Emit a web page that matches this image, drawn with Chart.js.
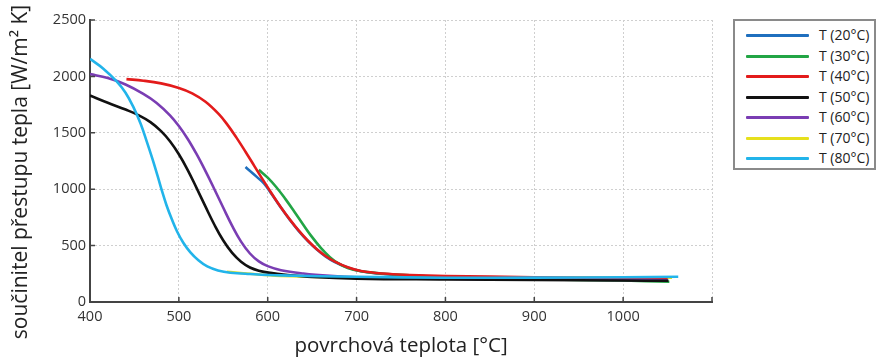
<!DOCTYPE html>
<html>
<head>
<meta charset="utf-8">
<script src="https://cdn.jsdelivr.net/npm/chart.js@4.4.1/dist/chart.umd.min.js"></script>
<style>
  html, body { margin: 0; padding: 0; background: #fff; }
  #wrap { position: relative; width: 883px; height: 362px; overflow: hidden; }
  #legend {
    position: absolute; left: 733px; top: 19px; width: 143px; height: 151px;
    box-sizing: border-box; border: 2px solid #8a8a8a; background: #fff;
    font-family: "Open Sans", sans-serif; font-size: 14px; color: #222;
  }
  .row { position: absolute; left: 0; height: 20px; width: 100%; }
  .row .sw { position: absolute; left: 11px; width: 63px; height: 3px; top: 9px; border-radius: 1px; }
  .row .tx { position: absolute; left: 84px; top: 0; line-height: 20px; white-space: nowrap; }
</style>
</head>
<body>
<div id="wrap">
  <canvas id="c" width="883" height="362"></canvas>
  <div id="legend"></div>
</div>
<script>
// Heat transfer coefficient vs. surface temperature, one curve per water temperature
const seriesNames = ["T (20°C)", "T (30°C)", "T (40°C)", "T (50°C)", "T (60°C)", "T (70°C)", "T (80°C)"];
const seriesColors = ["#1f6fbe", "#22a545", "#e31b1b", "#111111", "#7a3db3", "#e6e01c", "#22b4ea"];

const xTicks = [400, 500, 600, 700, 800, 900, 1000, 1100];
const yTicks = [0, 500, 1000, 1500, 2000, 2500];

const t20x = [575, 588, 596, 605, 615, 625, 635, 645, 655, 665, 675, 690, 705, 730, 800, 900, 1000, 1050];
const t20y = [1196, 1107, 1050, 950, 835, 727, 629, 542, 467, 405, 357, 305, 272, 248, 210, 205, 200, 196];

const t30x = [590, 600, 610, 620, 630, 640, 650, 660, 670, 680, 690, 705, 730, 760, 800, 900, 1000, 1052];
const t30y = [1172, 1102, 1015, 912, 800, 685, 575, 478, 398, 340, 302, 272, 251, 237, 219, 202, 190, 180];

const t40x = [441, 460, 480, 500, 515, 530, 545, 555, 565, 575, 585, 595, 605, 615, 625, 635, 645, 655, 665, 675, 690, 705, 730, 760, 800, 900, 1000, 1050];
const t40y = [1976, 1962, 1938, 1898, 1850, 1775, 1665, 1568, 1455, 1332, 1205, 1078, 955, 838, 730, 632, 545, 470, 408, 360, 308, 275, 252, 240, 231, 220, 212, 210];

const t50x = [400, 420, 440, 455, 468, 480, 490, 500, 510, 520, 530, 540, 550, 560, 570, 580, 590, 603, 620, 650, 700, 800, 900, 1000, 1051];
const t50y = [1830, 1766, 1706, 1655, 1595, 1515, 1425, 1310, 1170, 1010, 845, 685, 545, 435, 357, 306, 278, 258, 242, 222, 207, 200, 195, 190, 188];

const t60x = [400, 420, 440, 460, 475, 490, 500, 510, 520, 530, 540, 550, 560, 570, 580, 590, 600, 615, 640, 670, 700, 800, 900, 1000, 1050];
const t60y = [2020, 1985, 1928, 1845, 1765, 1655, 1560, 1445, 1310, 1160, 1000, 835, 675, 535, 430, 360, 318, 282, 253, 232, 220, 207, 200, 195, 192];

const t70x = [554, 580, 614, 700, 800, 900, 1000, 1055];
const t70y = [268, 250, 232, 220, 212, 213, 215, 215];

const t80x = [400, 415, 430, 440, 449, 457, 464, 470, 476, 481, 486, 492, 498, 505, 513, 522, 532, 544, 558, 580, 614, 700, 800, 900, 1000, 1062];
const t80y = [2155, 2068, 1955, 1855, 1725, 1580, 1420, 1275, 1120, 985, 860, 735, 625, 525, 440, 370, 315, 280, 260, 248, 236, 224, 215, 216, 220, 224];

const seriesX = [t20x, t30x, t40x, t50x, t60x, t70x, t80x];
const seriesY = [t20y, t30y, t40y, t50y, t60y, t70y, t80y];
// lower value = drawn later (on top)
const drawOrder = [5, 4, 3, 1, 2, 6, 0];

const xTitle = "povrchová teplota [°C]";
const yTitle = "součinitel přestupu tepla [W/m² K]";

const FONT = '"Open Sans", sans-serif';

// legend
const legend = document.getElementById('legend');
seriesNames.forEach((name, i) => {
  const row = document.createElement('div');
  row.className = 'row';
  row.style.top = (4 + i * 20.5) + 'px';
  const sw = document.createElement('span');
  sw.className = 'sw';
  sw.style.background = seriesColors[i];
  const tx = document.createElement('span');
  tx.className = 'tx';
  tx.textContent = name;
  row.appendChild(sw); row.appendChild(tx);
  legend.appendChild(row);
});

// inward tick marks and axis titles
const axisDecor = {
  id: 'axisDecor',
  afterDraw(chart) {
    const { ctx, chartArea: a, scales: { x, y } } = chart;
    ctx.save();
    ctx.strokeStyle = '#444';
    ctx.lineWidth = 1.5;
    ctx.beginPath();
    xTicks.forEach(v => {
      const px = x.getPixelForValue(v);
      ctx.moveTo(px, a.bottom); ctx.lineTo(px, a.bottom - 5);
    });
    yTicks.forEach(v => {
      const py = y.getPixelForValue(v);
      ctx.moveTo(a.left, py); ctx.lineTo(a.left + 5, py);
    });
    ctx.stroke();

    ctx.fillStyle = '#222';
    ctx.textAlign = 'center';
    ctx.textBaseline = 'middle';
    ctx.font = '20.5px ' + FONT;
    ctx.fillText(xTitle, (a.left + a.right) / 2, 346);
    ctx.font = '21px ' + FONT;
    ctx.translate(21, 172);
    ctx.rotate(-Math.PI / 2);
    ctx.fillText(yTitle, 0, 0);
    ctx.restore();
  }
};

function build() {
  const datasets = seriesNames.map((name, i) => ({
    label: name,
    data: seriesX[i].map((xv, j) => ({ x: xv, y: seriesY[i][j] })),
    borderColor: seriesColors[i],
    backgroundColor: seriesColors[i],
    borderWidth: 2.6,
    pointRadius: 0,
    fill: false,
    tension: 0.4,
    order: drawOrder[i]
  }));

  new Chart(document.getElementById('c'), {
    type: 'line',
    data: { datasets },
    options: {
      responsive: false,
      animation: false,
      events: [],
      layout: { padding: { top: 20, right: 171, left: 0, bottom: 0 } },
      plugins: { legend: { display: false }, tooltip: { enabled: false } },
      scales: {
        x: {
          type: 'linear', min: 400, max: 1100,
          afterBuildTicks: s => { s.ticks = xTicks.map(v => ({ value: v })); },
          afterFit: s => { s.height = 60; },
          ticks: {
            callback: v => (v === 1100 ? '' : String(v)),
            font: { family: FONT, size: 14.5 }, color: '#333', padding: 6, maxRotation: 0
          },
          grid: { color: '#cfcfcf', lineWidth: 1, drawTicks: false },
          border: { display: true, color: '#444', width: 2, dash: [2, 2] }
        },
        y: {
          type: 'linear', min: 0, max: 2500,
          afterBuildTicks: s => { s.ticks = yTicks.map(v => ({ value: v })); },
          afterFit: s => { s.width = 90; },
          ticks: {
            callback: v => String(v),
            font: { family: FONT, size: 14.5 }, color: '#333', padding: 4
          },
          grid: { color: '#cfcfcf', lineWidth: 1, drawTicks: false },
          border: { display: true, color: '#444', width: 2, dash: [2, 2] }
        }
      }
    },
    plugins: [axisDecor]
  });
}

if (document.fonts && document.fonts.load) {
  document.fonts.load('17px "Open Sans"').then(build, build);
} else {
  build();
}
</script>
</body>
</html>
